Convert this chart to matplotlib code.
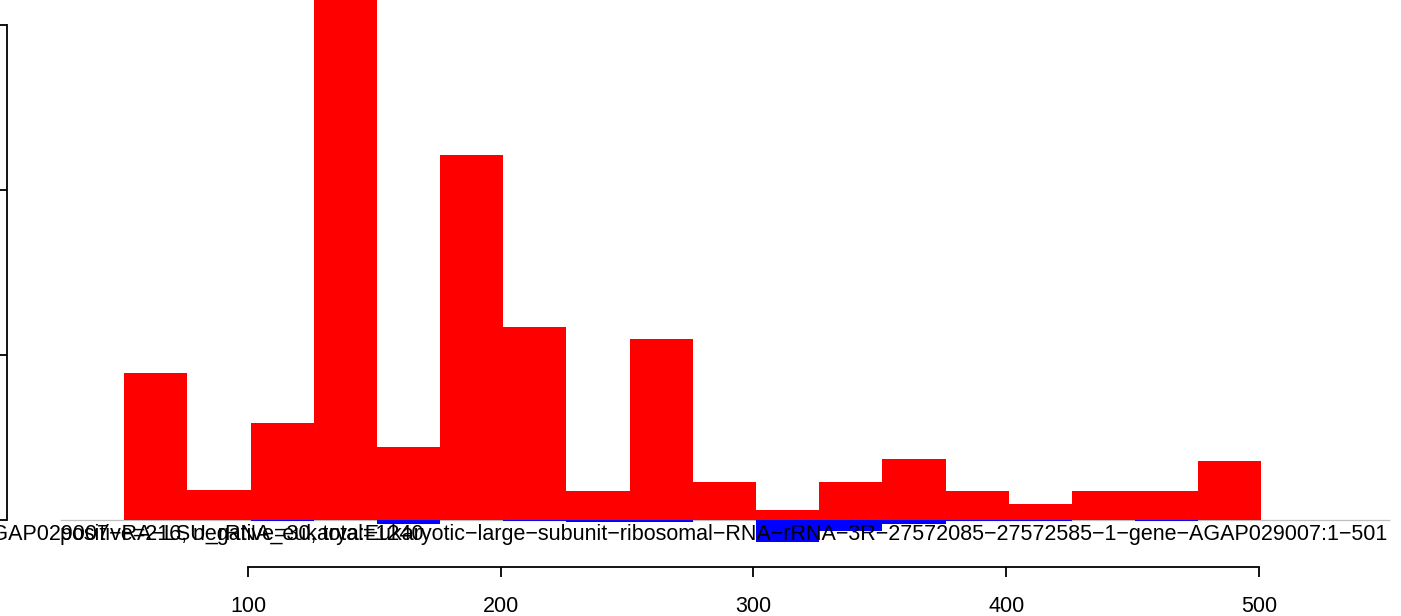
import matplotlib
matplotlib.use('Agg')
import matplotlib.pyplot as plt

# bins of width 25 (left edges)
bin_left = [51, 76, 101, 126, 151, 176, 201, 226, 251, 276, 301, 326, 351, 376, 401, 426, 451, 476]
# red bars (upwards)
pos_vals = [8.9, 1.8, 5.9, 38.0, 4.4, 22.1, 11.7, 1.75, 11.0, 2.3, 0.6, 2.3, 3.7, 1.75, 1.0, 1.75, 1.75, 3.6]
# blue bars (downwards)
neg_vals = [0, 0, 0.06, 0, 0.21, 0, 0.06, 0.12, 0.09, 0, 1.3, 0.64, 0.21, 0.06, 0.06, 0, 0.06, 0]

y_ticks = [0, 10, 20, 30]
x_ticks = [100, 200, 300, 400, 500]

label_long = ("AGAP029007\u2212RA\u2212LSU_rRNA_eukarya:Eukaryotic\u2212large\u2212subunit\u2212ribosomal"
              "\u2212RNA\u2212rRNA\u22123R\u221227572085\u221227572585\u22121\u2212gene\u2212AGAP029007:1\u2212501")
label_counts = "positive=216, negative=30, total=1240"

plt.rcParams['font.family'] = ['Liberation Sans', 'DejaVu Sans']

W, H = 1401, 616
fig = plt.figure(figsize=(W/100, H/100), dpi=100)
ax = fig.add_axes([7/W, 56/H, 1394/W, 560/H])
ax.set_xlim(4.65, 556.2)
ax.set_ylim(-2.42, 31.52)

ax.hlines(0, 25.6, 551.8, color='#BEBEBE', lw=0.9, zorder=1)
ax.bar(bin_left, pos_vals, width=25, align='edge', color='#FF0000', lw=0, zorder=2)
ax.bar(bin_left, [-v for v in neg_vals], width=25, align='edge', color='#0000FF', lw=0, zorder=2)

for s in ['top', 'right']:
    ax.spines[s].set_visible(False)
ax.spines['left'].set_bounds(0, 30)
ax.spines['left'].set_linewidth(1.3)
ax.spines['bottom'].set_bounds(100, 500)
ax.spines['bottom'].set_position(('outward', 5.0))
ax.spines['bottom'].set_linewidth(1.3)

ax.set_yticks(y_ticks)
ax.tick_params(axis='y', direction='out', length=5.0, width=1.3, labelleft=False)
ax.set_xticks(x_ticks)
ax.set_xticklabels([str(v) for v in x_ticks])
ax.tick_params(axis='x', direction='out', length=7.2, width=1.3, pad=14, labelsize=15.5)

fig.text(1388/W, 1 - 540/H, label_long, ha='right', va='baseline', fontsize=15.5)
fig.text(60/W, 1 - 540/H, label_counts, ha='left', va='baseline', fontsize=15.5)

fig.savefig('out.png', dpi=100)
